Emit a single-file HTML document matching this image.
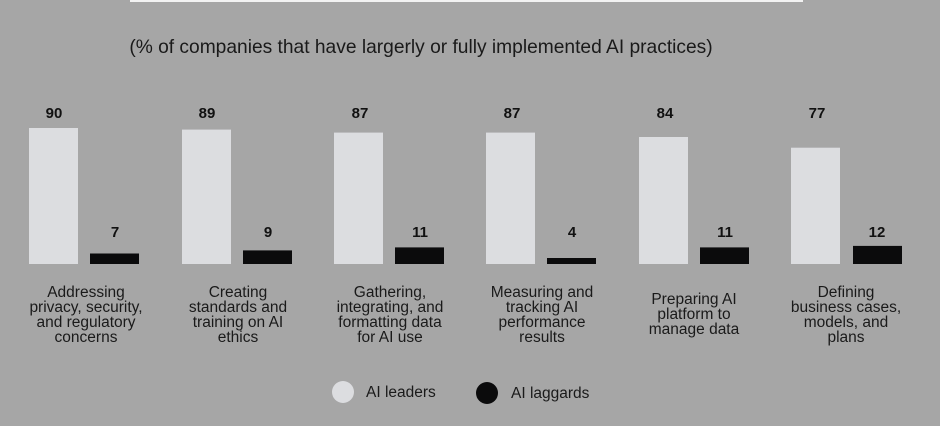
<!DOCTYPE html>
<html><head><meta charset="utf-8"><style>
html,body{margin:0;padding:0;background:#a6a6a6;}
svg{display:block;font-family:"Liberation Sans",sans-serif;}
</style></head><body>
<svg width="940" height="426" viewBox="0 0 940 426" xmlns="http://www.w3.org/2000/svg">
<rect width="940" height="426" fill="#a6a6a6"/>
<rect x="130" y="0" width="673" height="2" fill="#f2f2f2"/>
<text x="421" y="53" text-anchor="middle" font-size="19.2" fill="#1a1a1a">(% of companies that have largerly or fully implemented AI practices)</text>
<g font-size="15" font-weight="bold" fill="#111" text-anchor="middle">
<rect x="29" y="128" width="49" height="136" fill="#dcdde0"/>
<rect x="90" y="253.5" width="49" height="10.5" fill="#0b0b0c"/>
<text x="54" y="118">90</text><text x="115" y="237">7</text>
<rect x="182" y="129.6" width="49" height="134.4" fill="#dcdde0"/>
<rect x="243" y="250.4" width="49" height="13.6" fill="#0b0b0c"/>
<text x="207" y="118">89</text><text x="268" y="237">9</text>
<rect x="334" y="132.6" width="49" height="131.4" fill="#dcdde0"/>
<rect x="395" y="247.4" width="49" height="16.6" fill="#0b0b0c"/>
<text x="360" y="118">87</text><text x="420" y="237">11</text>
<rect x="486" y="132.6" width="49" height="131.4" fill="#dcdde0"/>
<rect x="547" y="258" width="49" height="6" fill="#0b0b0c"/>
<text x="512" y="118">87</text><text x="572" y="237">4</text>
<rect x="639" y="137" width="49" height="127" fill="#dcdde0"/>
<rect x="700" y="247.4" width="49" height="16.6" fill="#0b0b0c"/>
<text x="665" y="118">84</text><text x="725" y="237">11</text>
<rect x="791" y="147.7" width="49" height="116.3" fill="#dcdde0"/>
<rect x="853" y="245.9" width="49" height="18.1" fill="#0b0b0c"/>
<text x="817" y="118">77</text><text x="877" y="237">12</text>
</g>
<g font-size="15.5" fill="#1a1a1a" text-anchor="middle">
<text x="86" y="297">Addressing</text><text x="86" y="312">privacy, security,</text><text x="86" y="327">and regulatory</text><text x="86" y="342">concerns</text>
<text x="238" y="297">Creating</text><text x="238" y="312">standards and</text><text x="238" y="327">training on AI</text><text x="238" y="342">ethics</text>
<text x="390" y="297">Gathering,</text><text x="390" y="312">integrating, and</text><text x="390" y="327">formatting data</text><text x="390" y="342">for AI use</text>
<text x="542" y="297">Measuring and</text><text x="542" y="312">tracking AI</text><text x="542" y="327">performance</text><text x="542" y="342">results</text>
<text x="694" y="304">Preparing AI</text><text x="694" y="319">platform to</text><text x="694" y="334">manage data</text>
<text x="846" y="297">Defining</text><text x="846" y="312">business cases,</text><text x="846" y="327">models, and</text><text x="846" y="342">plans</text>
</g>
<circle cx="343" cy="392" r="11" fill="#dcdde0"/>
<text x="366" y="397" font-size="15.5" fill="#1a1a1a">AI leaders</text>
<circle cx="487" cy="393" r="11" fill="#0b0b0c"/>
<text x="511" y="398" font-size="15.5" fill="#1a1a1a">AI laggards</text>
</svg>
</body></html>
